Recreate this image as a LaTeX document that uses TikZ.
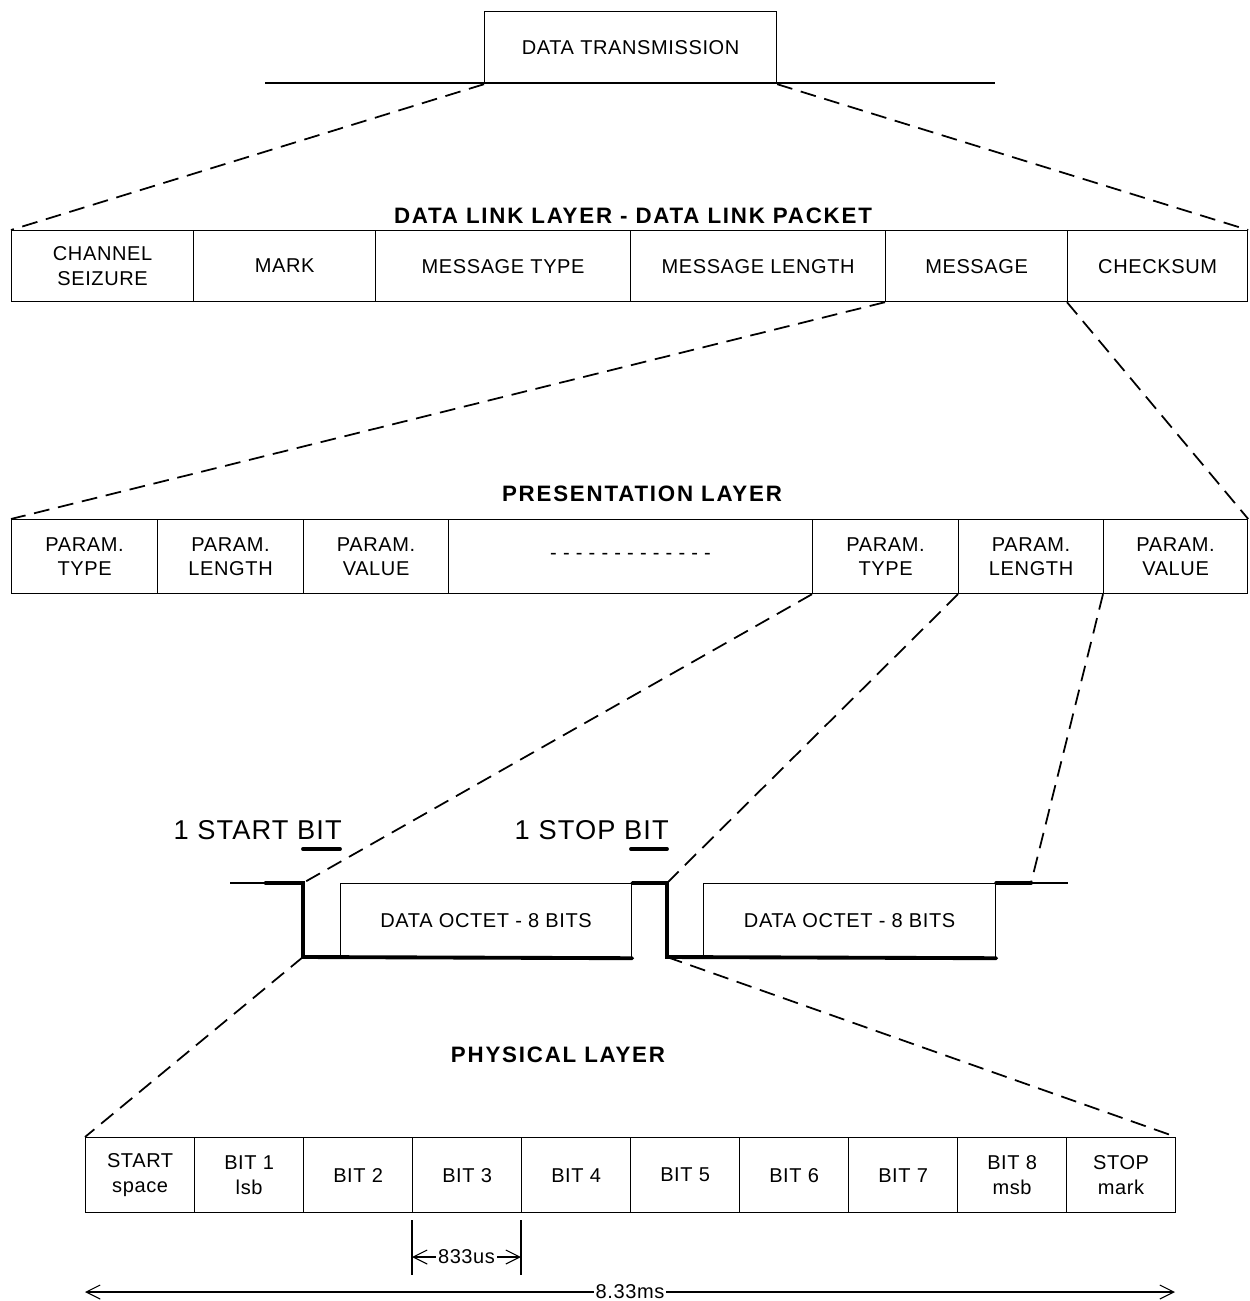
\documentclass[tikz,border=0pt]{standalone}
\usepackage{fontspec}
\setmainfont{Liberation Sans}
\usepackage{tikz}
\usetikzlibrary{arrows.meta}

\begin{document}
\begin{tikzpicture}[x=0.02cm, y=-0.02cm,
        cell/.style={draw, line width=0.7pt, anchor=north west, inner sep=1pt, align=center, font=\fontsize{11.4}{14}\selectfont\addfontfeatures{LetterSpace=3}},
        header/.style={font=\fontsize{12.7}{15}\selectfont\bfseries\addfontfeatures{LetterSpace=8}},
        biglabel/.style={anchor=base east, inner sep=0pt, font=\fontsize{15.5}{18}\selectfont\addfontfeatures{LetterSpace=4}},
        dimlabel/.style={fill=white, inner sep=1pt, font=\fontsize{11.4}{14}\selectfont\addfontfeatures{LetterSpace=3}},
        link/.style={line width=1pt, dash pattern=on 9pt off 5pt},
        wave/.style={line width=2.2pt, line cap=round},
        thinline/.style={line width=0.7pt},
        dim/.style={line width=0.6pt, {Straight Barb[length=8pt,width=8pt]}-{Straight Barb[length=8pt,width=8pt]}}]

        \useasboundingbox (0, 0) rectangle (1249, 1301);

        \node[cell, minimum width=5.84cm, minimum height=1.44cm] (tx) at (484, 11) {DATA TRANSMISSION};
        \coordinate (tl) at (265, 83);
        \coordinate (tr) at (995, 83);
        \draw[line width=1.5pt] (tl) -- (tr);

        \node[header] (dlh) at (633, 216) {DATA LINK LAYER - DATA LINK PACKET};

        \node[cell, minimum width=3.64cm, minimum height=1.42cm] (chan) at (11, 230) {CHANNEL\\SEIZURE};
        \node[cell, minimum width=3.64cm, minimum height=1.42cm] (mark) at (193, 230) {MARK};
        \node[cell, minimum width=5.10cm, minimum height=1.42cm] (mtype) at (375, 230) {MESSAGE TYPE};
        \node[cell, minimum width=5.10cm, minimum height=1.42cm] (mlen) at (630, 230) {MESSAGE LENGTH};
        \node[cell, minimum width=3.64cm, minimum height=1.42cm] (msg) at (885, 230) {MESSAGE};
        \node[cell, minimum width=3.60cm, minimum height=1.42cm] (chk) at (1067, 230) {CHECKSUM};

        \node[header] (plh) at (642, 494) {PRESENTATION LAYER};

        \node[cell, minimum width=2.92cm, minimum height=1.48cm] (pt1) at (11, 519) {PARAM.\\TYPE};
        \node[cell, minimum width=2.92cm, minimum height=1.48cm] (pl1) at (157, 519) {PARAM.\\LENGTH};
        \node[cell, minimum width=2.90cm, minimum height=1.48cm] (pv1) at (303, 519) {PARAM.\\VALUE};
        \node[cell, minimum width=7.28cm, minimum height=1.48cm] (pdots) at (448, 519) {- - - - - - - - - - - - -};
        \node[cell, minimum width=2.92cm, minimum height=1.48cm] (pt2) at (812, 519) {PARAM.\\TYPE};
        \node[cell, minimum width=2.90cm, minimum height=1.48cm] (pl2) at (958, 519) {PARAM.\\LENGTH};
        \node[cell, minimum width=2.88cm, minimum height=1.48cm] (pv2) at (1103, 519) {PARAM.\\VALUE};

        \node[biglabel] (startlbl) at (342, 839) {1 START BIT};
        \node[biglabel] (stoplbl) at (669, 839) {1 STOP BIT};
        \draw[wave] (303, 849) -- (340, 849);
        \draw[wave] (631, 849) -- (667, 849);

        \node[cell, minimum width=5.82cm, minimum height=1.48cm] (oct1) at (340, 883) {DATA OCTET - 8 BITS};
        \node[cell, minimum width=5.84cm, minimum height=1.48cm] (oct2) at (703, 883) {DATA OCTET - 8 BITS};

        \coordinate (w0) at (230, 883);
        \coordinate (w1) at (265, 883);
        \coordinate (w2) at (303, 883);
        \coordinate (w3) at (303, 957);
        \coordinate (w5) at (667, 883);
        \coordinate (w6) at (667, 957);
        \coordinate (w8) at (1031, 883);
        \coordinate (w9) at (1068, 883);

        \draw[thinline] (w0) -- (w1);
        \draw[wave] (w1) -- (w2) -- (w3) -- (oct1.south east);
        \draw[wave] (oct1.north east) -- (w5) -- (w6) -- (oct2.south east);
        \draw[wave] (oct2.north east) -- (w8);
        \draw[thinline] (w8) -- (w9);

        \node[header] (phh) at (558, 1055) {PHYSICAL LAYER};

        \node[cell, minimum width=2.18cm, minimum height=1.5cm] (b0) at (85, 1137) {START\\space};
        \node[cell, minimum width=2.18cm, minimum height=1.5cm] (b1) at (194, 1137) {BIT 1\\lsb};
        \node[cell, minimum width=2.18cm, minimum height=1.5cm] (b2) at (303, 1137) {BIT 2};
        \node[cell, minimum width=2.18cm, minimum height=1.5cm] (b3) at (412, 1137) {BIT 3};
        \node[cell, minimum width=2.18cm, minimum height=1.5cm] (b4) at (521, 1137) {BIT 4};
        \node[cell, minimum width=2.18cm, minimum height=1.5cm] (b5) at (630, 1137) {BIT 5};
        \node[cell, minimum width=2.18cm, minimum height=1.5cm] (b6) at (739, 1137) {BIT 6};
        \node[cell, minimum width=2.18cm, minimum height=1.5cm] (b7) at (848, 1137) {BIT 7};
        \node[cell, minimum width=2.18cm, minimum height=1.5cm] (b8) at (957, 1137) {BIT 8\\msb};
        \node[cell, minimum width=2.18cm, minimum height=1.5cm] (b9) at (1066, 1137) {STOP\\mark};

        \coordinate (t1a) at (412, 1220);
        \coordinate (t1b) at (412, 1275);
        \coordinate (t2a) at (521, 1220);
        \coordinate (t2b) at (521, 1275);
        \coordinate (a1) at (412, 1257);
        \coordinate (a2) at (521, 1257);
        \coordinate (s1) at (85, 1292);
        \coordinate (s2) at (1175, 1292);

        \draw[thinline] (t1a) -- (t1b);
        \draw[thinline] (t2a) -- (t2b);
        \draw[dim] (a1) -- node[dimlabel] (bitlbl) {833us} (a2);
        \draw[dim] (s1) -- node[dimlabel] (framelbl) {8.33ms} (s2);

        \draw[link] (tx.south west) -- (chan.north west);
        \draw[link] (tx.south east) -- (chk.north east);
        \draw[link] (msg.south west) -- (pt1.north west);
        \draw[link] (chk.south west) -- (pv2.north east);
        \draw[link] (pt2.south west) -- (w2);
        \draw[link] (pl2.south west) -- (w5);
        \draw[link] (pv2.south west) -- (w8);
        \draw[link] (w3) -- (b0.north west);
        \draw[link] (w6) -- (b9.north east);
    \end{tikzpicture}
\end{document}
